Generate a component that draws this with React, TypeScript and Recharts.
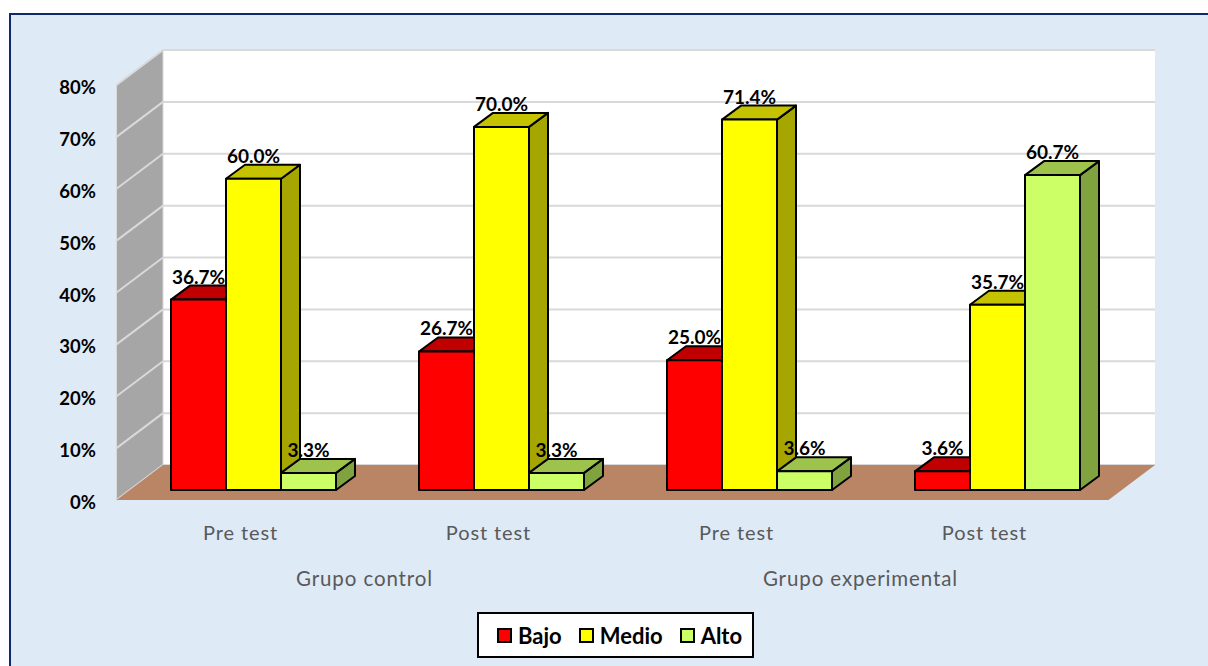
import { Bar, BarChart, LabelList, Legend, XAxis, YAxis, usePlotArea } from "recharts"

const sessions = ["Pre test", "Post test", "Pre test", "Post test"]
const groups = ["Grupo control", "Grupo control", "Grupo experimental", "Grupo experimental"]
const bajo = [36.7, 26.7, 25.0, 3.6]
const medio = [60.0, 70.0, 71.4, 35.7]
const alto = [3.3, 3.3, 3.6, 60.7]
const yTicks = [0, 10, 20, 30, 40, 50, 60, 70, 80]

const data = sessions.map((session, i) => ({
  id: i,
  session,
  group: groups[i],
  bajo: bajo[i],
  medio: medio[i],
  alto: alto[i],
}))

const FONT = "Lato, sans-serif"
const YMAX = 80
// the bars stand part way into the 3D floor
const FRONT_DX = 13.5
const FRONT_DY = 10
const WALL_DX = 46.5
const WALL_DY = 35
const BAR_DX = 19
const BAR_DY = 14

function Backdrop() {
  const plot = usePlotArea()
  if (!plot) return null
  const left = plot.x - FRONT_DX
  const right = plot.x + plot.width - FRONT_DX
  const bottom = plot.y + plot.height + FRONT_DY
  const yAt = (v: number) => (1 - v / YMAX) * plot.height + plot.y + FRONT_DY
  const top = yAt(YMAX)
  const pts = (list: number[][]) => list.map((p) => p.join(",")).join(" ")

  return (
    <g>
      <rect x={left + WALL_DX} y={top - WALL_DY} width={right - left} height={bottom - top} fill="#ffffff" />
      <polygon
        points={pts([
          [left, bottom],
          [left, top],
          [left + WALL_DX, top - WALL_DY],
          [left + WALL_DX, bottom - WALL_DY],
        ])}
        fill="#a6a6a6"
        stroke="#d9d9d9"
      />
      {yTicks.map((t) => (
        <g key={t}>
          <line x1={left} y1={yAt(t)} x2={left + WALL_DX} y2={yAt(t) - WALL_DY} stroke="#d9d9d9" strokeWidth={2} />
          <line x1={left + WALL_DX} y1={yAt(t) - WALL_DY} x2={right + WALL_DX} y2={yAt(t) - WALL_DY} stroke="#d9d9d9" strokeWidth={2} />
        </g>
      ))}
      <polygon
        points={pts([
          [left, bottom],
          [right, bottom],
          [right + WALL_DX, bottom - WALL_DY],
          [left + WALL_DX, bottom - WALL_DY],
        ])}
        fill="#b98565"
      />
    </g>
  )
}

function Box3D(props: any) {
  const { x, y, width, height, fill, topFill, sideFill } = props
  const r = x + width
  const b = y + height
  return (
    <g stroke="#000000" strokeWidth={2} strokeLinejoin="round">
      <polygon points={`${r},${y} ${r + BAR_DX},${y - BAR_DY} ${r + BAR_DX},${b - BAR_DY} ${r},${b}`} fill={sideFill} />
      <polygon points={`${x},${y} ${x + BAR_DX},${y - BAR_DY} ${r + BAR_DX},${y - BAR_DY} ${r},${y}`} fill={topFill} />
      <rect x={x} y={y} width={width} height={height} fill={fill} />
    </g>
  )
}

function YTick({ x, y, payload }: any) {
  return (
    <text x={x} y={y + 19} textAnchor="end" fontFamily={FONT} fontSize={18.5} fontWeight={700} fill="#000000">
      {payload.value}%
    </text>
  )
}

function SessionTick({ x, y, payload }: any) {
  return (
    <text x={x - FRONT_DX} y={y + 42} textAnchor="middle" fontFamily={FONT} fontSize={20} letterSpacing={0.9} fill="#595959">
      {payload.value}
    </text>
  )
}

function GroupTick({ x, y, payload }: any) {
  return (
    <text x={x - FRONT_DX} y={y + 23} textAnchor="middle" fontFamily={FONT} fontSize={20.5} letterSpacing={0.9} fill="#595959">
      {payload.value}
    </text>
  )
}

function LegendBox({ payload }: any) {
  return (
    <div
      style={{
        boxSizing: "border-box",
        height: 46,
        background: "#ffffff",
        border: "2px solid #000000",
        display: "flex",
        alignItems: "center",
        paddingLeft: 18,
        fontFamily: FONT,
        fontSize: 22,
        fontWeight: 700,
        color: "#000000",
      }}
    >
      {(payload ?? []).map((entry: any) => (
        <span key={entry.value} style={{ display: "flex", alignItems: "center", marginRight: 17 }}>
          <span
            style={{
              boxSizing: "border-box",
              width: 15,
              height: 15,
              marginRight: 6,
              background: entry.color,
              border: "2px solid #000000",
            }}
          />
          {entry.value}
        </span>
      ))}
    </div>
  )
}

const formatPct = (v: any) => `${Number(v).toFixed(1)}%`
const labelStyle = { fontFamily: FONT, fontSize: 19, fontWeight: 700, fill: "#000000" }

export default function App() {
  return (
    <div style={{ position: "fixed", left: 0, top: 0, width: 1208, height: 666, overflow: "hidden", background: "#ffffff" }}>
      <div
        style={{
          position: "absolute",
          left: 9,
          top: 13,
          width: 1240,
          height: 700,
          boxSizing: "border-box",
          background: "#deeaf6",
          border: "2px solid #10296b",
        }}
      />
      <div style={{ position: "absolute", left: 0, top: 0 }}>
        <BarChart
          width={1208}
          height={666}
          data={data}
          margin={{ top: 75, right: 86, bottom: 25, left: 0 }}
          barCategoryGap={41}
          barGap={0}
        >
          <Backdrop />
          <YAxis
            width={130}
            domain={[0, YMAX]}
            ticks={yTicks}
            axisLine={false}
            tickLine={false}
            tickSize={0}
            tickMargin={34}
            tick={<YTick />}
          />
          <XAxis dataKey="id" axisLine={false} tickLine={false} height={65} interval={0} tick={(p: any) => <SessionTick {...p} payload={{ value: sessions[p.payload.value] }} />} />
          <XAxis
            xAxisId="group"
            dataKey="group"
            allowDuplicatedCategory={false}
            axisLine={false}
            tickLine={false}
            height={40}
            interval={0}
            tick={<GroupTick />}
          />
          <Legend
            verticalAlign="bottom"
            itemSorter={null}
            content={<LegendBox />}
            wrapperStyle={{ left: 477, width: 277, height: 46, bottom: 8 }}
          />
          <Bar dataKey="bajo" name="Bajo" fill="#ff0000" isAnimationActive={false} shape={<Box3D topFill="#c00000" sideFill="#a00000" />}>
            <LabelList dataKey="bajo" position="top" offset={16} formatter={formatPct} style={labelStyle} />
          </Bar>
          <Bar dataKey="medio" name="Medio" fill="#ffff00" isAnimationActive={false} shape={<Box3D topFill="#c5c300" sideFill="#a6a600" />}>
            <LabelList dataKey="medio" position="top" offset={16} formatter={formatPct} style={labelStyle} />
          </Bar>
          <Bar dataKey="alto" name="Alto" fill="#ccff66" isAnimationActive={false} shape={<Box3D topFill="#9dc34d" sideFill="#80a33f" />}>
            <LabelList dataKey="alto" position="top" offset={16} formatter={formatPct} style={labelStyle} />
          </Bar>
        </BarChart>
      </div>
    </div>
  )
}
